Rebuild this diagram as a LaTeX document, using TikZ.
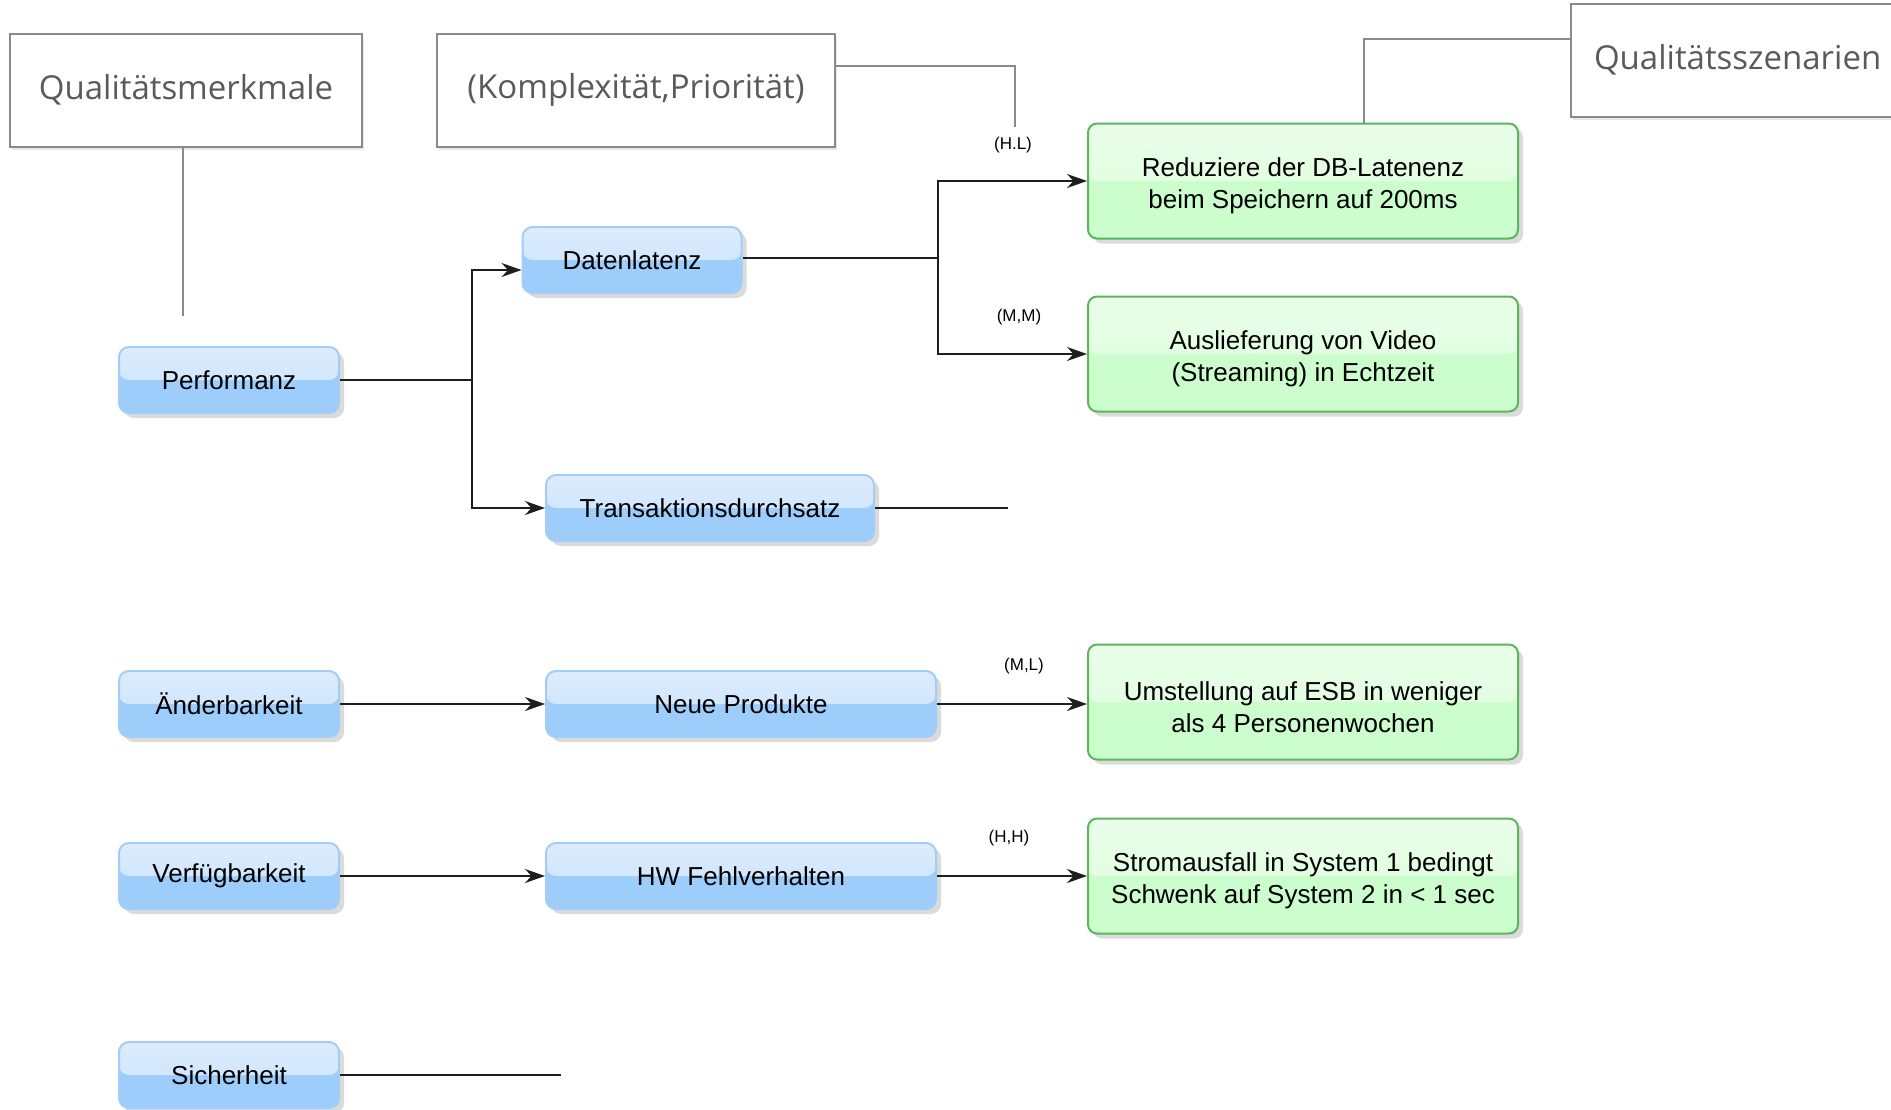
\documentclass[tikz,border=0pt]{standalone}
\usepackage{fontspec}
\setmainfont{Liberation Sans}
\newfontfamily\hdrfont{Open Sans}
\usetikzlibrary{arrows.meta,shadows}

\definecolor{bluetop}{HTML}{DDECFD}
\definecolor{bluemid}{HTML}{C6E1FC}
\definecolor{bluelow}{HTML}{9DCDFB}
\definecolor{blueedge}{HTML}{A3CDF7}
\definecolor{greentop}{HTML}{EAFEEA}
\definecolor{greenmid}{HTML}{DAFDDA}
\definecolor{greenlow}{HTML}{CCFDCC}
\definecolor{greenedge}{HTML}{5DB55D}
\definecolor{hdredge}{HTML}{8A8A8A}
\definecolor{hdrtext}{HTML}{5A5A5A}
\definecolor{flowline}{HTML}{1E1E1E}

% extra room above the first line of a scenario text
\newcommand{\tallstrut}{\rule{0pt}{29pt}}

\tikzset{
  attr/.style={
    rounded corners=10pt, draw=blueedge, line width=2pt, fill=bluelow,
    minimum height=66pt, inner sep=0pt,
    font=\fontsize{26}{30}\selectfont,
    drop shadow={shadow xshift=5pt, shadow yshift=-5pt, opacity=0.28},
    path picture={\fill[top color=bluetop, bottom color=bluemid]
      (path picture bounding box.north west) rectangle (path picture bounding box.east);}
  },
  scen/.style={
    rounded corners=9pt, draw=greenedge, line width=2pt, fill=greenlow,
    minimum width=430pt, minimum height=115pt, inner sep=0pt,
    align=center, font=\fontsize{26}{32}\selectfont,
    drop shadow={shadow xshift=5pt, shadow yshift=-5pt, opacity=0.28},
    path picture={\fill[top color=greentop, bottom color=greenmid]
      (path picture bounding box.north west) rectangle (path picture bounding box.east);}
  },
  hdr/.style={
    draw=hdredge, line width=2pt, fill=white, inner sep=0pt,
    minimum height=113pt, text=hdrtext,
    font=\hdrfont\fontsize{33}{38}\selectfont,
    drop shadow={shadow xshift=2pt, shadow yshift=-3pt, opacity=0.18}
  },
  hdrlink/.style={draw=hdredge, line width=2pt},
  flow/.style={draw=flowline, line width=1.6pt},
  arr/.style={flow, -{Stealth[length=20pt,width=14pt]}},
  rating/.style={font=\fontsize{17}{20}\selectfont, inner sep=0pt}
}

\begin{document}
\begin{tikzpicture}[x=1pt, y=-1pt]
  \useasboundingbox[fill=white] (0,0) rectangle (1891,1109);

  % column headers
  \node[hdr, minimum width=352pt] (merk) at (186,90) {Qualitätsmerkmale};
  \node[hdr, minimum width=398pt] (komp) at (636,90) {(Komplexität,Priorität)};
  \node[hdr, minimum width=345pt, text width=330pt, align=left] (szen) at (1743,60)
    {\hspace*{16pt}Qualitätsszenarien};

  % quality attributes
  \node[attr, minimum width=220pt] (perf)  at (229,380)  {Performanz};
  \node[attr, minimum width=220pt] (aend)  at (229,704)  {Änderbarkeit};
  \node[attr, minimum width=220pt] (verf)  at (229,876)  {Verfügbarkeit};
  \node[attr, minimum width=220pt] (sich)  at (229,1075) {Sicherheit};

  % refinements
  \node[attr, minimum width=219pt] (datl)  at (632,260) {Datenlatenz};
  \node[attr, minimum width=328pt] (trans) at (710,508) {Transaktionsdurchsatz};
  \node[attr, minimum width=390pt] (neue)  at (741,704) {Neue Produkte};
  \node[attr, minimum width=390pt] (hw)    at (741,876) {HW Fehlverhalten};

  % scenarios
  \node[scen] (s1) at (1303,181) {\tallstrut Reduziere der DB-Latenenz\\beim Speichern auf 200ms};
  \node[scen] (s2) at (1303,354) {\tallstrut Auslieferung von Video\\(Streaming) in Echtzeit};
  \node[scen] (s3) at (1303,702) {\tallstrut Umstellung auf ESB in weniger\\als 4 Personenwochen};
  \node[scen] (s4) at (1303,876) {\tallstrut Stromausfall in System 1 bedingt\\Schwenk auf System 2 in < 1 sec};

  % header links
  \coordinate (merkend) at (183,316);
  \draw[hdrlink] (merk.south -| merkend) -- (merkend);
  \coordinate (kh) at (0,66);
  \coordinate (kend) at (1015,127);
  \draw[hdrlink] (komp.east |- kh) -| (kend);
  \coordinate (sh) at (0,39);
  \coordinate (send) at (1364,124);
  \draw[hdrlink] (szen.west |- sh) -| (send);

  % branches
  \coordinate (pj) at (472,380);
  \draw[flow] (perf.east) -- (pj);
  \draw[arr] (pj) |- ([yshift=-10pt]datl.west);
  \draw[arr] (pj) |- (trans.west);

  \coordinate (dj) at (938,258);
  \draw[flow] (datl.east |- dj) -- (dj);
  \draw[arr] (dj) |- (s1.west);
  \draw[arr] (dj) |- (s2.west);

  \coordinate (tend) at (1008,508);
  \draw[flow] (trans.east) -- (tend);

  \draw[arr] (aend.east) -- (neue.west);
  \draw[arr] (neue.east) -- (s3.west |- neue.east);
  \draw[arr] (verf.east) -- (hw.west);
  \draw[arr] (hw.east) -- (s4.west);

  \coordinate (send2) at (561,1075);
  \draw[flow] (sich.east) -- (send2);

  % ratings
  \node[rating] (r1) at (1013,145) {(H.L)};
  \node[rating] (r2) at (1019,317) {(M,M)};
  \node[rating] (r3) at (1024,666) {(M,L)};
  \node[rating] (r4) at (1009,838) {(H,H)};
\end{tikzpicture}
\end{document}
